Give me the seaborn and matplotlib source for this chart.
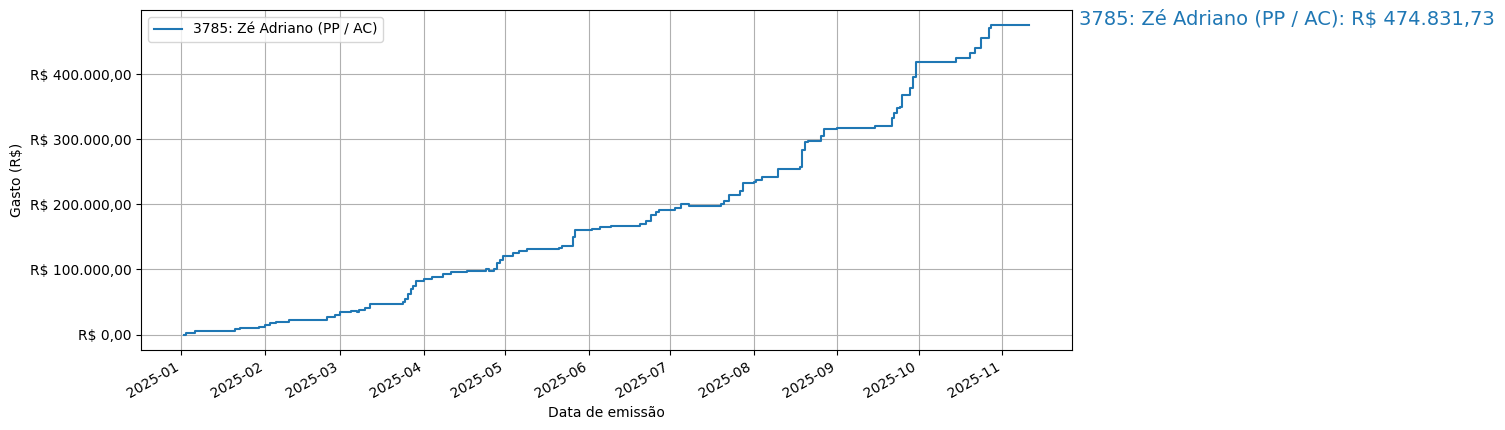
import matplotlib
matplotlib.use("Agg")
import matplotlib.pyplot as plt
import matplotlib.dates as mdates
from matplotlib.ticker import FuncFormatter
import pandas as pd
import seaborn as sns

label = "3785: Zé Adriano (PP / AC)"
total = 474831.73
dates = ["2025-01-02","2025-01-03","2025-01-06","2025-01-21","2025-01-23","2025-01-30","2025-02-01",
 "2025-02-03","2025-02-05","2025-02-10","2025-02-17","2025-02-19","2025-02-24","2025-02-27","2025-03-01",
 "2025-03-05","2025-03-07","2025-03-08","2025-03-10","2025-03-12","2025-03-24","2025-03-25","2025-03-26",
 "2025-03-27","2025-03-28","2025-03-29","2025-04-01","2025-04-04","2025-04-08","2025-04-11","2025-04-17",
 "2025-04-24","2025-04-25","2025-04-27","2025-04-28","2025-04-29","2025-04-30","2025-05-04","2025-05-06",
 "2025-05-09","2025-05-15","2025-05-21","2025-05-22","2025-05-26","2025-05-27","2025-06-02","2025-06-05",
 "2025-06-09","2025-06-20","2025-06-22","2025-06-24","2025-06-26","2025-06-27","2025-07-03","2025-07-05",
 "2025-07-08","2025-07-20","2025-07-21","2025-07-23","2025-07-27","2025-07-28","2025-08-01","2025-08-02",
 "2025-08-04","2025-08-10","2025-08-18","2025-08-19","2025-08-20","2025-08-21","2025-08-26","2025-08-27",
 "2025-09-01","2025-09-15","2025-09-21","2025-09-22","2025-09-23","2025-09-24","2025-09-25","2025-09-28",
 "2025-09-29","2025-09-30","2025-10-15","2025-10-20","2025-10-22","2025-10-24","2025-10-27","2025-10-28",
 "2025-11-11"]
values = [0,3000,5000,8000,10000,12000,14000,
 17000,19000,22000,23000,22000,27000,30000,34000,
 36000,34000,38000,41000,47000,50000,55000,63000,
 70000,75000,82000,85000,88000,93000,96000,98000,
 101000,98000,100000,110000,115000,121000,125000,128000,
 132000,131000,133000,136000,150000,160000,162000,165000,
 166000,170000,175000,183000,188000,192000,195000,200000,
 197000,200000,205000,214000,220000,233000,235000,238000,
 242000,255000,258000,283000,295000,298000,305000,315000,
 317000,320000,332000,340000,348000,350000,368000,378000,
 395000,418000,424000,432000,440000,455000,470000,474831.73,
 474831.73]

df = pd.DataFrame({"data": pd.to_datetime(dates), "gasto": values})

fig = plt.figure(figsize=(15.05, 4.3), dpi=100)
ax = fig.add_axes([0.094, 0.186, 0.618, 0.791])
sns.lineplot(data=df, x="data", y="gasto", drawstyle="steps-post", label=label, ax=ax, color="C0")
ax.grid(True)
ax.set_xlabel("Data de emissão")
ax.set_ylabel("Gasto (R$)")

def brl(v, pos):
    s = f"{v:,.2f}".replace(",", "X").replace(".", ",").replace("X", ".")
    return "R$ " + s
ax.yaxis.set_major_formatter(FuncFormatter(brl))
ax.set_yticks([0, 100000, 200000, 300000, 400000])
ax.xaxis.set_major_locator(mdates.MonthLocator())
ax.xaxis.set_major_formatter(mdates.DateFormatter("%Y-%m"))
for t in ax.get_xticklabels():
    t.set_rotation(30); t.set_ha("right")
ax.legend(loc="upper left")
fig.text(0.717, 0.955, f"{label}: {brl(total, None)}", color="C0", fontsize=14, va="center", ha="left")
fig.savefig("out.png", dpi=100)
